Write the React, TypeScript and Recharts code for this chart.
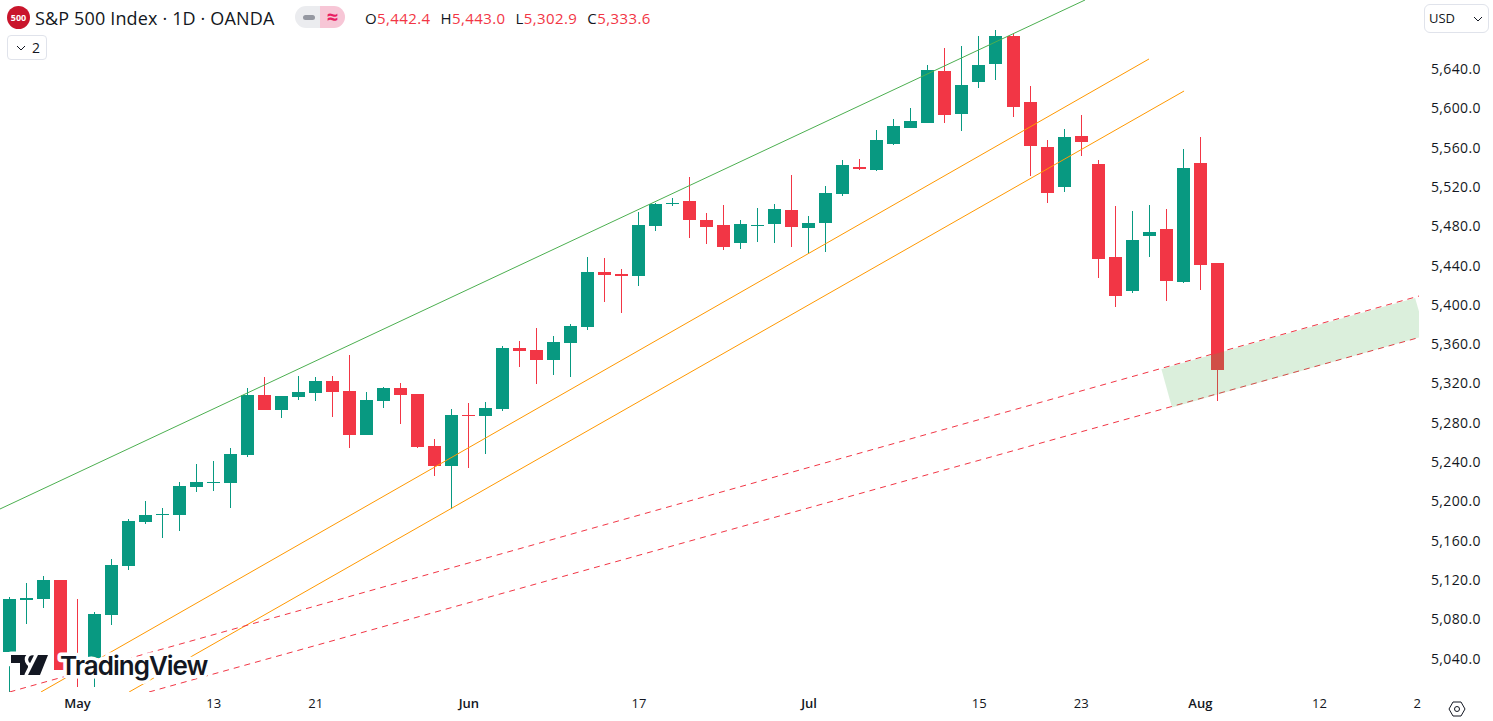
import { Area, Bar, ComposedChart, ReferenceLine, XAxis, YAxis } from "recharts";

const UP = "#089981";
const DOWN = "#f23645";
const FONT = "'Open Sans', 'Noto Sans', sans-serif";

// daily candles (index 0 = Apr 25)
const opens = [
  5046.8, 5099.7, 5100.7, 5120, 5038.6, 5040.7, 5084.4, 5134.3, 5179, 5186.2, 5186.2, 5214.7,
  5218.8, 5218.8, 5247.2, 5308.3, 5293, 5306.3, 5310.3, 5322.5, 5312.4, 5267.6, 5302.2, 5315.4,
  5309.3, 5256.4, 5236, 5288, 5287, 5294, 5356.1, 5354, 5343.9, 5361.2, 5377.5, 5433.4,
  5431.4, 5429.4, 5480.2, 5502.6, 5505.7, 5486.4, 5481.3, 5463, 5480.2, 5482.3, 5496.5, 5478.2,
  5483.3, 5512.8, 5540.3, 5537.2, 5563.7, 5580, 5585, 5638, 5594.2, 5626.8, 5645.1, 5673.6,
  5606.4, 5560.6, 5520, 5571.8, 5543.3, 5448.7, 5414.1, 5470, 5477.2, 5423.3, 5544.3, 5442.4,
];
const closes = [
  5100.7, 5101.7, 5120, 5028.5, 5026.4, 5085, 5135.3, 5180, 5186.2, 5187.2, 5215.7, 5219.8,
  5219.8, 5248.3, 5308.3, 5293, 5307.3, 5311.4, 5322.5, 5311.4, 5267.6, 5303.2, 5315.4, 5308.3,
  5255.4, 5236, 5288, 5287, 5295, 5356.1, 5353, 5343.9, 5362.2, 5378.5, 5433.4, 5430.4,
  5429.4, 5481.3, 5502.6, 5503.6, 5486.4, 5479.2, 5458.9, 5482.3, 5481.3, 5497.5, 5479.2, 5483.3,
  5513.8, 5542.3, 5538.2, 5567.8, 5582, 5587.1, 5639, 5593.2, 5623.7, 5644, 5673.6, 5601.3,
  5561.6, 5513.8, 5570.8, 5565.7, 5446.7, 5409, 5466, 5474.1, 5424.3, 5539.3, 5440.6, 5333.6,
];
const highs = [
  5102.7, 5117, 5124, 5120, 5100.7, 5087.5, 5141.4, 5182, 5200.4, 5193.3, 5219.8, 5238,
  5241.1, 5254.4, 5315.4, 5326.6, 5307.3, 5327.6, 5326.6, 5327.6, 5349, 5311.4, 5316.4, 5320.5,
  5309.3, 5263.5, 5294, 5300.2, 5301.2, 5358.1, 5363.2, 5376.5, 5368.3, 5380.5, 5448.7, 5447.7,
  5436.5, 5494.5, 5503.6, 5508.7, 5530.1, 5493.5, 5501.6, 5486.4, 5498.6, 5502.6, 5532.1, 5490.4,
  5521, 5547.4, 5548.4, 5577.9, 5589.1, 5600.3, 5644, 5661.4, 5663.4, 5673.6, 5679.7, 5675.6,
  5622.7, 5567.8, 5578.9, 5593.2, 5547.4, 5500.6, 5495.5, 5501.6, 5497.5, 5558.6, 5570.8, 5443,
];
const lows = [
  5006, 5075, 5091.6, 5028.5, 5011.2, 5011, 5074.3, 5130.2, 5177, 5162.8, 5169.9, 5209.6,
  5210.6, 5193.3, 5245.2, 5293, 5284.9, 5303.2, 5302.2, 5285.9, 5254.4, 5267.6, 5295, 5278.8,
  5254.4, 5225.9, 5192.3, 5234, 5248.3, 5292, 5336.8, 5319.5, 5328.6, 5326.6, 5374.4, 5402.9,
  5391.7, 5419.2, 5475.2, 5500.6, 5468, 5462, 5455.8, 5456.8, 5464, 5463, 5458.9, 5452.8,
  5453.8, 5510.8, 5537.2, 5536.2, 5562.7, 5580, 5585, 5585, 5576.9, 5620.7, 5628.8, 5591.2,
  5531.1, 5503.6, 5514.8, 5551.5, 5427.3, 5397.8, 5412.1, 5448.7, 5404, 5422.3, 5415.1, 5302.9,
];

const candles = opens.map((open, i) => ({
  i,
  open,
  close: closes[i],
  high: highs[i],
  low: lows[i],
  range: [lows[i], highs[i]],
}));

const priceTicks = [5040, 5080, 5120, 5160, 5200, 5240, 5280, 5320, 5360, 5400, 5440, 5480, 5520, 5560, 5600, 5640];
const dateTicks = [4, 12, 18, 27, 37, 47, 57, 63, 70, 77, 82.75];
const dateLabels = ["May", "13", "21", "Jun", "17", "Jul", "15", "23", "Aug", "12", "2"];
const monthLabels = ["May", "Jun", "Jul", "Aug"];

const xDomain = [-0.5584, 82.85];
const yDomain = [5006.1, 5710.2];

// trend lines as [index, price] pairs
const greenLine = [[-0.5584, 5192.3], [63.22, 5710.2]];
const orangeUpper = [[1.85, 5006.1], [66.98, 5650.2]];
const orangeLower = [[7.03, 5006.1], [69.04, 5617.6]];
const redUpper = [[0, 5006.1], [82.85, 5409]];
const redLower = [[8.2, 5006.1], [82.85, 5366.8]];

// green support zone between the two red lines
const zoneIndex = [67.71, 68.33, 82.62, 83.26];
const zoneLow = [5334.6, 5295.6, 5365.8, 5368.3];
const zoneHigh = [5334.6, 5337.7, 5407.1, 5368.3];
const zone = zoneIndex.map((i, n) => ({ i, band: [zoneLow[n], zoneHigh[n]] }));

const header = [
  ["O", "5,442.4"],
  ["H", "5,443.0"],
  ["L", "5,302.9"],
  ["C", "5,333.6"],
];

function Candle(props: any) {
  const { x, y, width, height, payload } = props;
  const perUnit = height / (payload.high - payload.low || 1);
  const top = y + (payload.high - Math.max(payload.open, payload.close)) * perUnit;
  const bottom = y + (payload.high - Math.min(payload.open, payload.close)) * perUnit;
  const color = payload.close >= payload.open ? UP : DOWN;
  const center = Math.round(x + width / 2 - 0.5);
  const bodyTop = Math.round(top);
  const bodyHeight = Math.max(Math.round(bottom) - bodyTop, 1);
  return (
    <g>
      <rect x={center} y={Math.round(y)} width={1} height={Math.round(height)} fill={color} />
      <rect x={center - 6} y={bodyTop} width={13} height={bodyHeight} fill={color} />
    </g>
  );
}

function DateTick(props: any) {
  const { x, y, payload } = props;
  const label = dateLabels[dateTicks.indexOf(payload.value)];
  const isMonth = monthLabels.includes(label);
  return (
    <text x={x} y={y} textAnchor="middle" fontFamily={FONT} fontSize={13} fontWeight={isMonth ? 600 : 400} fill="#131722">
      {label}
    </text>
  );
}

function Trend({ points, color, dashed }: { points: number[][]; color: string; dashed?: boolean }) {
  return (
    <ReferenceLine
      segment={[
        { x: points[0][0], y: points[0][1] },
        { x: points[1][0], y: points[1][1] },
      ]}
      stroke={color}
      strokeWidth={1}
      strokeDasharray={dashed ? "6 5" : undefined}
      ifOverflow="hidden"
    />
  );
}

// watermark with the white halo that hides whatever runs underneath
function Logo() {
  return (
    <svg width={225} height={40} style={{ position: "absolute", left: 0, top: 645 }}>
      <g transform="translate(11 10)" fill="#131722" stroke="#fff" strokeWidth={7} paintOrder="stroke" strokeLinejoin="round">
        <path d="M0 0H17V20H9V8H0Z" />
        <circle cx={21.5} cy={4.5} r={4.3} />
        <path d="M27 0H37L29 20H17Z" />
      </g>
      <text
        x={60}
        y={30}
        fontFamily="Inter, Roboto, sans-serif"
        fontSize={26}
        fontWeight={600}
        letterSpacing={-1}
        fill="#131722"
        stroke="#fff"
        strokeWidth={7}
        strokeLinejoin="round"
        paintOrder="stroke"
      >
        TradingView
      </text>
    </svg>
  );
}

function Legend() {
  return (
    <div style={{ position: "absolute", left: 0, top: 0, fontFamily: FONT, color: "#131722" }}>
      <div
        style={{
          position: "absolute", left: 7, top: 6, width: 23, height: 23, borderRadius: 12, background: "#c9152c",
          color: "#fff", fontSize: 9, fontWeight: 700, textAlign: "center", lineHeight: "23px",
        }}
      >
        500
      </div>
      <div style={{ position: "absolute", left: 35, top: 6, fontSize: 18, whiteSpace: "nowrap", lineHeight: "24px", letterSpacing: 0.15 }}>
        S&amp;P 500 Index · 1D · OANDA
      </div>
      <div
        style={{
          position: "absolute", left: 295, top: 6, width: 25, height: 22, background: "#ebecef",
          borderRadius: "11px 0 0 11px",
        }}
      >
        <div style={{ position: "absolute", left: 8, top: 9, width: 12, height: 5, borderRadius: 3, background: "#9598a1" }} />
      </div>
      <div
        style={{
          position: "absolute", left: 320, top: 6, width: 25, height: 22, background: "#f7c6d6",
          borderRadius: "0 11px 11px 0", color: "#e91e63", fontSize: 20, fontWeight: 700, textAlign: "center", lineHeight: "21px",
        }}
      >
        ≈
      </div>
      <div style={{ position: "absolute", left: 365, top: 8, fontSize: 15, letterSpacing: 0.4, whiteSpace: "nowrap", lineHeight: "20px", display: "flex", gap: 10 }}>
        {header.map(([k, v]) => (
          <span key={k}>
            {k}
            <span style={{ color: DOWN }}>{v}</span>
          </span>
        ))}
      </div>
      <div
        style={{
          position: "absolute", left: 7, top: 35, width: 38, height: 23, border: "1px solid #e0e3eb",
          borderRadius: 4, fontSize: 14, lineHeight: "23px", background: "#fff",
        }}
      >
        <svg width={10} height={6} style={{ position: "absolute", left: 8, top: 9 }}>
          <path d="M1 1l4 4 4-4" fill="none" stroke="#131722" />
        </svg>
        <span style={{ position: "absolute", left: 24 }}>2</span>
      </div>
      <div
        style={{
          position: "absolute", left: 1424, top: 4, width: 63, height: 27, border: "1px solid #e0e3eb",
          borderRadius: 6, fontSize: 13, lineHeight: "27px", background: "#fff",
        }}
      >
        <span style={{ position: "absolute", left: 4 }}>USD</span>
        <svg width={10} height={6} style={{ position: "absolute", left: 48, top: 11 }}>
          <path d="M1 1l4 4 4-4" fill="none" stroke="#131722" />
        </svg>
      </div>
      <svg width={20} height={20} style={{ position: "absolute", left: 1447, top: 699 }}>
        <path d="M6 3h8l4 7-4 7H6l-4-7z" fill="none" stroke="#131722" />
        <circle cx={10} cy={10} r={2.5} fill="none" stroke="#131722" />
      </svg>
    </div>
  );
}

export default function App() {
  return (
    <div style={{ position: "absolute", left: 0, top: 0, width: 1493, height: 721, background: "#fff", overflow: "hidden" }}>
      <ComposedChart width={1493} height={721} data={candles} margin={{ top: 0, right: 0, bottom: 0, left: 0 }}>
        <XAxis
          dataKey="i"
          type="number"
          domain={xDomain}
          allowDataOverflow
          ticks={dateTicks}
          interval={0}
          height={29}
          axisLine={false}
          tickLine={false}
          tick={<DateTick />}
          tickMargin={10}
        />
        <YAxis
          orientation="right"
          type="number"
          domain={yDomain}
          allowDataOverflow
          ticks={priceTicks}
          interval={0}
          width={74}
          axisLine={false}
          tickLine={false}
          tickMargin={6}
          tick={{ fontFamily: FONT, fontSize: 14, letterSpacing: 0.35, fill: "#131722", textAnchor: "start" }}
          tickFormatter={(v: number) => v.toLocaleString("en-US", { minimumFractionDigits: 1 })}
        />
        <Bar dataKey="range" barSize={13} shape={<Candle />} isAnimationActive={false} />
        {Trend({ points: greenLine, color: "#4caf50" })}
        {Trend({ points: orangeUpper, color: "#ff9800" })}
        {Trend({ points: orangeLower, color: "#ff9800" })}
        {Trend({ points: redUpper, color: DOWN, dashed: true })}
        {Trend({ points: redLower, color: DOWN, dashed: true })}
        <Area
          data={zone}
          dataKey="band"
          type="linear"
          stroke="none"
          fill="#4caf50"
          fillOpacity={0.2}
          dot={false}
          activeDot={false}
          isAnimationActive={false}
          zIndex={1000}
        />
      </ComposedChart>
      <Legend />
      <Logo />
    </div>
  );
}
